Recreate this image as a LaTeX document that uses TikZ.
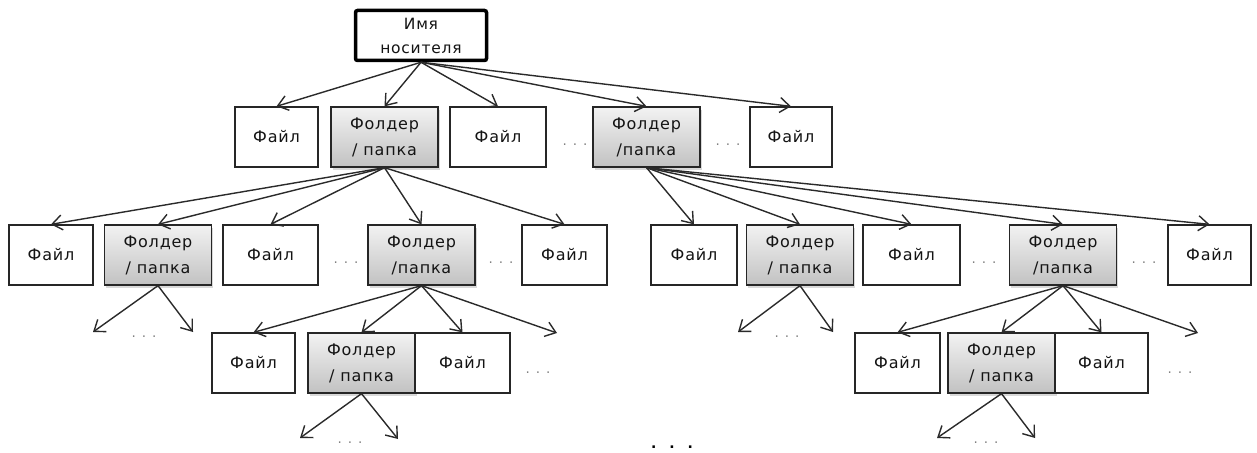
\documentclass[tikz,border=0pt]{standalone}
\usepackage{fontspec}
\setmainfont{DejaVu Sans}
\newfontfamily\spacedfam{DejaVu Sans}[LetterSpace=5]
\usetikzlibrary{arrows.meta,shadows}

\newcommand\boxfont{\spacedfam\fontsize{16}{26}\selectfont}
\newcommand\rootfont{\spacedfam\fontsize{15.5}{24}\selectfont}
\newcommand\dotfont{\fontsize{13.5}{16}\selectfont}
\definecolor{inkline}{HTML}{2A2A2A}
\definecolor{inktext}{HTML}{141414}

\begin{document}
\begin{tikzpicture}[x=1pt,y=-1pt,
  box/.style={draw=black!85, line width=1.3pt, minimum width=#1, minimum height=60pt,
    inner sep=0pt, align=center, font=\boxfont, text=inktext},
  filebox/.style={box=#1, fill=white},
  filebox/.default=84pt,
  folderbox/.style={box=107pt, top color=gray!10, bottom color=gray!48,
    drop shadow={shadow xshift=1.5pt, shadow yshift=-2.5pt, opacity=0.3}},
  rootbox/.style={draw=black, line width=3.5pt, rounded corners=2pt, minimum width=131pt,
    minimum height=50pt, inner sep=0pt, align=center, font=\rootfont, text=inktext, fill=white},
  link/.style={draw=inkline, line width=1.4pt, -{Straight Barb[length=10pt,width=15pt]}},
  more/.style={text=gray, font=\dotfont, inner sep=0pt},
  bigmore/.style={text=black, font=\fontsize{14}{16}\selectfont\bfseries, inner sep=0pt},
]
\useasboundingbox (0,0) rectangle (1257,452);

% root
\node[rootbox] (root) at (421,35.5) {Имя\\носителя};

% first level
\node[filebox=83pt] (f1a) at (276.5,137) {Файл};
\node[folderbox] (F1) at (384.5,137) {Фолдер\\/ папка};
\node[filebox=96pt] (f1b) at (498,137) {Файл};
\node[more] (m1a) at (575,145) {.\hspace{6pt}.\hspace{6pt}.};
\node[folderbox] (F2) at (646.5,137) {Фолдер\\/папка};
\node[more] (m1b) at (728,145) {.\hspace{6pt}.\hspace{6pt}.};
\node[filebox=82pt] (f1c) at (791,137) {Файл};

% second level, left branch
\node[filebox=84pt] (f2a) at (51,255) {Файл};
\node[folderbox] (F21) at (158,255) {Фолдер\\/ папка};
\node[filebox=95pt] (f2b) at (270.5,255) {Файл};
\node[more] (m2a) at (346,263) {.\hspace{6pt}.\hspace{6pt}.};
\node[folderbox] (F22) at (421.5,255) {Фолдер\\/папка};
\node[more] (m2b) at (501,263) {.\hspace{6pt}.\hspace{6pt}.};
\node[filebox=85pt] (f2c) at (564.5,255) {Файл};

% second level, right branch
\node[filebox=86pt] (f2d) at (694,255) {Файл};
\node[folderbox] (F23) at (800,255) {Фолдер\\/ папка};
\node[filebox=97pt] (f2e) at (911.5,255) {Файл};
\node[more] (m2c) at (984,263) {.\hspace{6pt}.\hspace{6pt}.};
\node[folderbox] (F24) at (1063,255) {Фолдер\\/папка};
\node[more] (m2d) at (1144,263) {.\hspace{6pt}.\hspace{6pt}.};
\node[filebox=83pt] (f2g) at (1209.5,255) {Файл};

% third level, left
\node[filebox=83pt] (f3a) at (253.5,363) {Файл};
\node[folderbox] (F31) at (361.5,363) {Фолдер\\/ папка};
\node[filebox=95pt] (f3b) at (462.5,363) {Файл};
\node[more] (m3a) at (538,373) {.\hspace{6pt}.\hspace{6pt}.};
\coordinate (x3a) at (557,333);

% third level, right
\node[filebox=85pt] (f3c) at (897.5,363) {Файл};
\node[folderbox] (F32) at (1001.5,363) {Фолдер\\/ папка};
\node[filebox=93pt] (f3d) at (1101.5,363) {Файл};
\node[more] (m3b) at (1180,373) {.\hspace{6pt}.\hspace{6pt}.};
\coordinate (x3b) at (1198,333);

% open ends below folders
\coordinate (e21a) at (93,332);  \coordinate (e21b) at (193,332);
\node[more] (m21) at (144,337) {.\hspace{6pt}.\hspace{6pt}.};
\coordinate (e23a) at (738,332); \coordinate (e23b) at (833,332);
\node[more] (m23) at (787,337) {.\hspace{6pt}.\hspace{6pt}.};
\coordinate (e31a) at (300,438); \coordinate (e31b) at (398,439);
\node[more] (m31) at (350,443) {.\hspace{6pt}.\hspace{6pt}.};
\coordinate (e32a) at (937,438); \coordinate (e32b) at (1035,438);
\node[more] (m32) at (986,443) {.\hspace{6pt}.\hspace{6pt}.};

\node[bigmore] (mend) at (672,447) {.\hspace{13pt}.\hspace{13pt}.};

% connectors
\foreach \c in {f1a,F1,f1b,F2,f1c} \draw[link] (root.south) -- (\c.north);
\foreach \c in {f2a,F21,f2b,F22,f2c} \draw[link] (F1.south) -- (\c.north);
\foreach \c in {f2d,F23,f2e,F24,f2g} \draw[link] (F2.south) -- (\c.north);
\foreach \c in {f3a,F31,f3b} \draw[link] (F22.south) -- (\c.north);
\draw[link] (F22.south) -- (x3a);
\foreach \c in {f3c,F32,f3d} \draw[link] (F24.south) -- (\c.north);
\draw[link] (F24.south) -- (x3b);
\draw[link] (F21.south) -- (e21a);
\draw[link] (F21.south) -- (e21b);
\draw[link] (F23.south) -- (e23a);
\draw[link] (F23.south) -- (e23b);
\draw[link] (F31.south) -- (e31a);
\draw[link] (F31.south) -- (e31b);
\draw[link] (F32.south) -- (e32a);
\draw[link] (F32.south) -- (e32b);
\end{tikzpicture}
\end{document}
